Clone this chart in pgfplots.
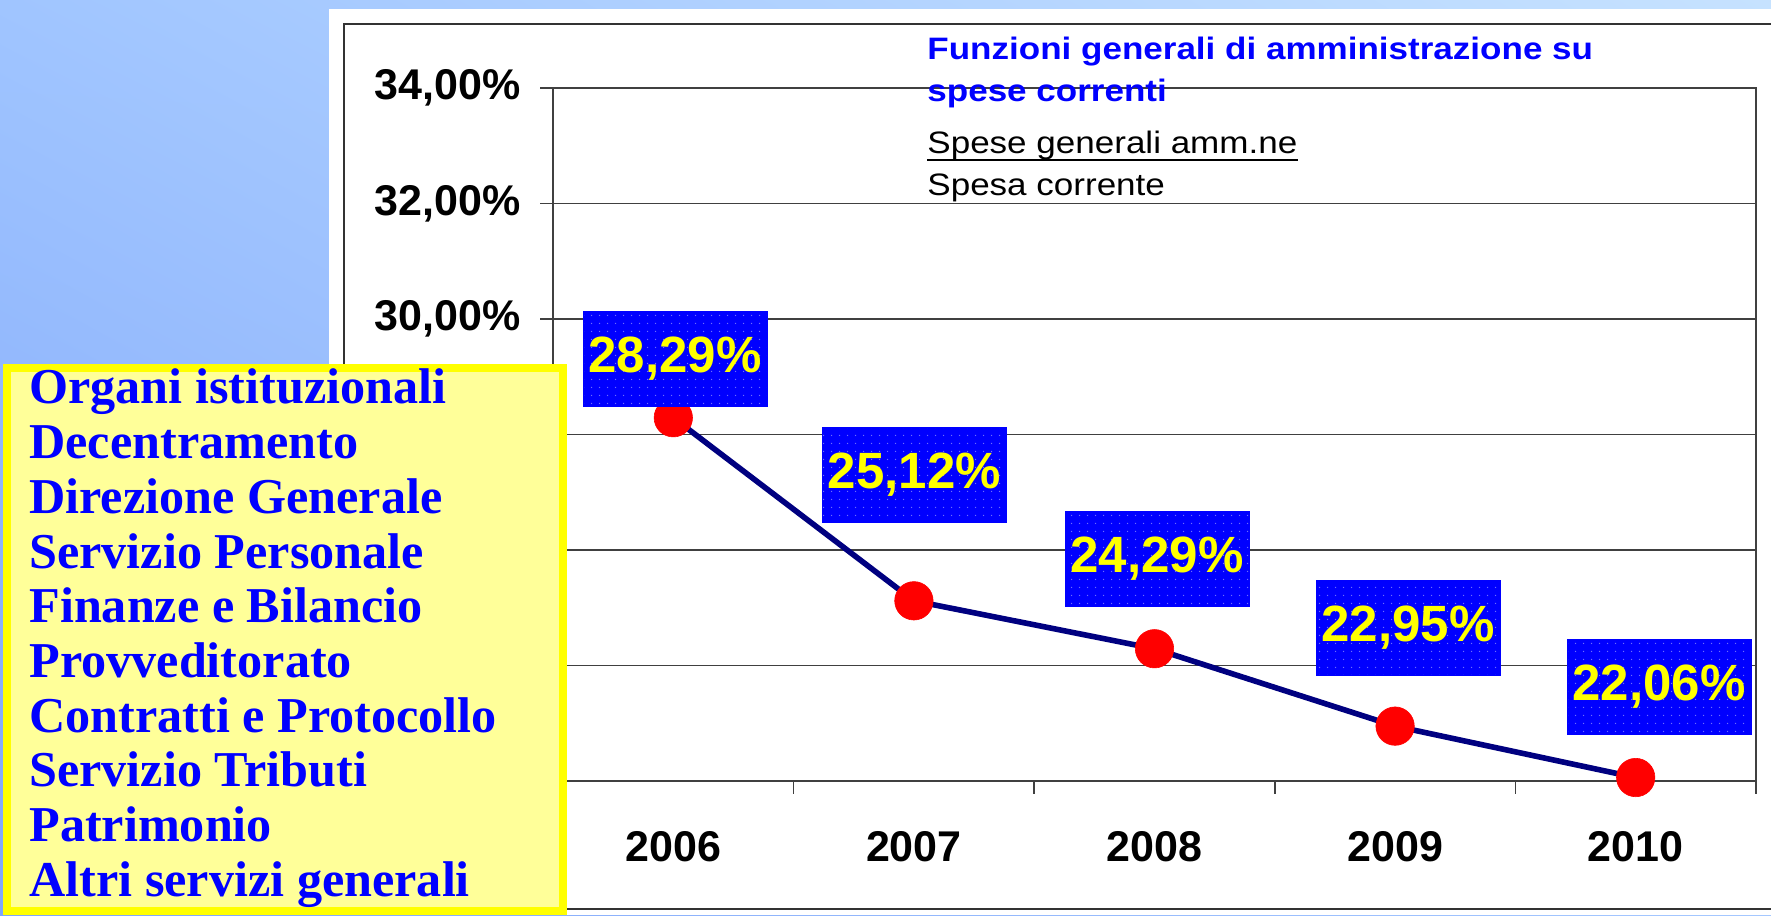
\documentclass[border=0pt]{standalone}
\usepackage{pgfplots}
\pgfplotsset{compat=1.18}
\usepackage{fontspec}
\setmainfont{Liberation Sans}
\newfontfamily\timesfont{Liberation Serif}
\usetikzlibrary{patterns.meta,shadings}
\definecolor{bgUL}{RGB}{160,197,255}
\definecolor{bgUR}{RGB}{198,226,255}
\definecolor{bgLL}{RGB}{128,166,250}
\definecolor{bgLR}{RGB}{165,200,255}
\definecolor{navyline}{RGB}{0,0,128}
\definecolor{pureblue}{RGB}{0,0,255}
\definecolor{dotblue}{RGB}{110,110,255}
\definecolor{pureyellow}{RGB}{255,255,0}
\definecolor{paleyellow}{RGB}{255,255,153}
\definecolor{markred}{RGB}{255,0,0}
\pgfplotstableread{
x y dx dy lab
1 28.29 0.85 29.5 28,29
2 25.12 0.25 62.9 25,12
3 24.29 1.25 45.15 24,29
4 22.95 6.5 49.3 22,95
5 22.06 11.65 45.5 22,06
}\datatable
\newcommand{\wide}[1]{\scalebox{1.13}[1]{#1}}
\begin{document}
\begin{tikzpicture}
\clip (0,0) rectangle (885.5pt,457.5pt);
\shade[upper left=bgUL, upper right=bgUR, lower left=bgLL, lower right=bgLR] (0,0) rectangle (885.5pt,457.5pt);
\fill[white] (164.5pt,0) rectangle (890pt,453pt);
\draw[black!80, line width=0.75pt] (890pt,445.6pt) -- (172pt,445.6pt) -- (172pt,3pt) -- (890pt,3pt);
\begin{axis}[
  at={(276.5pt,67pt)}, anchor=south west,
  scale only axis, width=601.5pt, height=346.5pt,
  xmin=0.5, xmax=5.5, ymin=22, ymax=34,
  axis background/.style={fill=white},
  axis line style={black!75, line width=0.8pt},
  tick pos=left,
  ytick={22,24,...,34},
  yticklabels={{22,00\%},{24,00\%},{26,00\%},{28,00\%},{30,00\%},{32,00\%},{34,00\%}},
  ymajorgrids, grid style={black!75, line width=0.8pt},
  tick align=outside, major tick length=6.5pt,
  tick style={black!75, line width=0.8pt},
  xtick={0.5,1.5,...,5.5}, xticklabels={},
  extra x ticks={1,2,3,4,5},
  extra x tick labels={2006,2007,2008,2009,2010},
  extra x tick style={grid=none, major tick length=0pt,
     xticklabel style={anchor=center, inner sep=0pt, yshift=-33pt}},
  ticklabel style={font=\fontsize{21.5}{25}\selectfont\bfseries, text=black},
  yticklabel style={anchor=east, inner sep=0pt, xshift=-9.5pt},
  clip=false,
  /pgf/number format/assume math mode=true,
]
\addplot[color=navyline, line width=2.8pt, mark=*, mark size=9.6pt,
  mark options={solid, draw=markred, fill=markred, line width=0.3pt},
  nodes near coords={\pgfplotspointmeta\%},
  point meta=explicit symbolic,
  visualization depends on={\thisrow{dx} \as \dx},
  visualization depends on={\thisrow{dy} \as \dy},
  every node near coord/.style={anchor=center, xshift=\dx pt, yshift=\dy pt,
     color=pureblue, draw=pureblue, line width=0.1pt, fill=pureblue, text=pureyellow,
     minimum width=92pt, minimum height=47.5pt,
     inner sep=0pt, font=\fontsize{25.5}{28}\selectfont\bfseries,
     postaction={pattern={Dots[distance=4pt,radius=0.4pt]}, pattern color=dotblue}},
] table[x=x, y=y, meta=lab] {\datatable};
\end{axis}
\node[anchor=base west, inner sep=0pt, text=pureblue, font=\fontsize{15.5}{18}\selectfont\bfseries] at (463.5pt,427.5pt) {\wide{Funzioni generali di amministrazione su}};
\node[anchor=base west, inner sep=0pt, text=pureblue, font=\fontsize{15.5}{18}\selectfont\bfseries] at (463.5pt,406.5pt) {\wide{spese correnti}};
\node[anchor=base west, inner sep=0pt, font=\fontsize{15.5}{18}\selectfont] (sg) at (463.5pt,380.8pt) {\wide{Spese generali amm.ne}};
\draw[line width=1.3pt] ([yshift=-3.3pt]sg.base west) -- ([yshift=-3.3pt]sg.base east);
\node[anchor=base west, inner sep=0pt, font=\fontsize{15.5}{18}\selectfont] at (463.5pt,359.6pt) {\wide{Spesa corrente}};
\draw[pureyellow, fill=paleyellow, line width=4pt] (3.5pt,2pt) rectangle (281.5pt,273.5pt);
\foreach \t [count=\i] in {Organi istituzionali, Decentramento, Direzione Generale, Servizio Personale, Finanze e Bilancio, Provveditorato, Contratti e Protocollo, Servizio Tributi, Patrimonio, Altri servizi generali}{
  \node[anchor=base west, inner sep=0pt, text=pureblue, font=\timesfont\fontsize{25.1}{27}\selectfont\bfseries] at (14.5pt,{255.5pt-27.35pt*(\i-1)}) {\t};
}
\end{tikzpicture}
\end{document}
